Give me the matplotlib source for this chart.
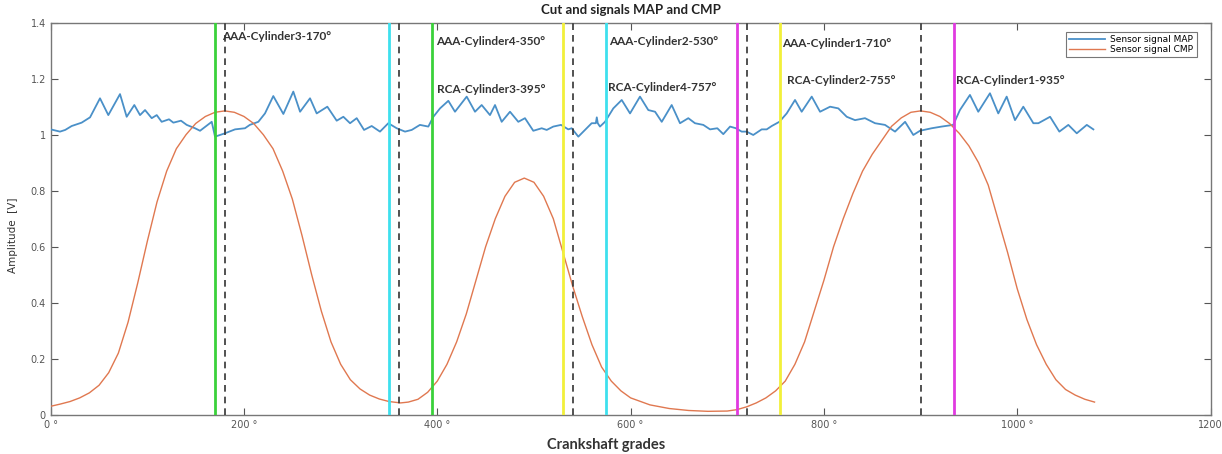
import matplotlib
matplotlib.use("Agg")
import matplotlib.pyplot as plt

# ---- MAP signal ----
map_x = [0, 9.6, 15, 21.7, 32, 40.7, 51, 59.6, 71.7, 78.6, 86.5, 92.4, 97.6, 104.5, 109.7,
         114.8, 122.4, 126.9, 134.8, 140.7, 149.3, 154.5, 166.6, 170, 180.3, 190.7, 201,
         206, 214.8, 221.7, 230.3, 240.7, 251, 258, 268.3, 275.2, 286.2, 295.9, 302.8,
         309.7, 316.6, 324.2, 332.1, 340.7, 349.3, 358, 366.6, 373.5, 382, 390.7, 395.9,
         402.8, 411.4, 418.3, 430.4, 439, 445.9, 454.5, 459.7, 466.6, 475.2, 483.8, 490.7,
         499.3, 508, 513.2, 520, 528, 535.5, 539, 545.9, 552.8, 559.7, 564, 565, 566, 568.3,
         573.5, 582.1, 590.8, 599.4, 609.7, 618.3, 625.3, 632.2, 642.5, 651.1, 659.7,
         666.6, 675.2, 682.2, 689.7, 695.9, 702.9, 709, 714.9, 720, 726.9, 735.6, 740.8,
         746, 753.9, 761.5, 770.1, 777, 787.4, 796, 806.4, 814.9, 823.6, 832.2, 842.5,
         852.9, 863.2, 873.6, 884, 892.5, 899.4, 911.5, 921.8, 933.8, 940.7, 951.1, 959.7,
         971.8, 980.4, 989.1, 997.7, 1006.3, 1016.7, 1021.9, 1034, 1043.6, 1052.9, 1061.6,
         1072, 1078.8]
map_y = [1.019, 1.011, 1.017, 1.031, 1.043, 1.062, 1.130, 1.070, 1.145, 1.064, 1.106, 1.070,
         1.088, 1.059, 1.070, 1.046, 1.055, 1.043, 1.050, 1.035, 1.023, 1.014, 1.046, 0.993,
         1.005, 1.019, 1.023, 1.035, 1.046, 1.076, 1.138, 1.074, 1.154, 1.082, 1.130,
         1.076, 1.100, 1.050, 1.064, 1.041, 1.059, 1.017, 1.031, 1.011, 1.041, 1.023,
         1.011, 1.017, 1.035, 1.029, 1.064, 1.094, 1.121, 1.082, 1.136, 1.082, 1.106,
         1.070, 1.106, 1.046, 1.082, 1.046, 1.059, 1.014, 1.023, 1.017, 1.029, 1.035,
         1.019, 1.023, 0.993, 1.017, 1.041, 1.041, 1.062, 1.041, 1.029, 1.046, 1.094,
         1.124, 1.076, 1.136, 1.088, 1.082, 1.046, 1.106, 1.041, 1.059, 1.041, 1.035,
         1.019, 1.023, 1.002, 1.029, 1.023, 1.011, 1.011, 0.999, 1.019, 1.019, 1.031,
         1.046, 1.076, 1.124, 1.082, 1.136, 1.082, 1.100, 1.094, 1.064, 1.052, 1.059,
         1.041, 1.035, 1.011, 1.046, 0.999, 1.014, 1.023, 1.029, 1.035, 1.088, 1.142,
         1.082, 1.148, 1.076, 1.136, 1.052, 1.100, 1.041, 1.041, 1.064, 1.011, 1.035,
         1.005, 1.035, 1.019]

# ---- CMP signal ----
cmp_x = [0, 10, 20, 30, 40, 50, 60, 70, 80, 90, 100, 110, 120, 130, 140, 150, 160, 170, 180,
         190, 200, 210, 220, 230, 240, 250, 260, 270, 280, 290, 300, 310, 320, 330, 340,
         350, 362, 370, 380, 390, 400, 410, 420, 430, 440, 450, 460, 470, 480, 490, 500,
         510, 520, 530, 540, 550, 560, 570, 580, 590, 600, 620, 640, 660, 680, 700, 710,
         720, 730, 740, 750, 760, 770, 780, 790, 800, 810, 820, 830, 840, 850, 860, 870,
         880, 890, 900, 910, 920, 930, 940, 950, 960, 970, 980, 990, 1000, 1010, 1020,
         1030, 1040, 1050, 1060, 1070, 1080]
cmp_y = [0.03, 0.038, 0.047, 0.06, 0.078, 0.105, 0.15, 0.22, 0.33, 0.47, 0.62, 0.76, 0.87,
         0.95, 1.0, 1.04, 1.065, 1.08, 1.085, 1.08, 1.065, 1.04, 1.0, 0.95, 0.87, 0.77,
         0.64, 0.5, 0.37, 0.26, 0.18, 0.125, 0.092, 0.07, 0.056, 0.047, 0.042, 0.045,
         0.055, 0.08, 0.12, 0.18, 0.26, 0.36, 0.48, 0.6, 0.7, 0.78, 0.83, 0.845, 0.83,
         0.78, 0.7, 0.58, 0.46, 0.35, 0.25, 0.17, 0.12, 0.085, 0.06, 0.035, 0.022, 0.015,
         0.012, 0.013, 0.018, 0.028, 0.042, 0.06, 0.085, 0.12, 0.18, 0.26, 0.37, 0.48,
         0.6, 0.7, 0.79, 0.87, 0.93, 0.98, 1.03, 1.06, 1.08, 1.085, 1.08, 1.065, 1.04,
         1.005, 0.96, 0.9, 0.82, 0.7, 0.58, 0.45, 0.34, 0.25, 0.18, 0.125, 0.09, 0.07,
         0.055, 0.045]

# ---- markers ----
solid_pos = [170, 395, 350, 575, 530, 755, 710, 935]
solid_col = ['#3ad13a', '#3ad13a', '#3ee0ee', '#3ee0ee', '#f2f03a', '#f2f03a', '#e03ae0', '#e03ae0']
dashed_pos = [180, 360, 540, 720, 900]

labels = ["AAA-Cylinder3-170°", "AAA-Cylinder4-350°", "RCA-Cylinder3-395°",
          "AAA-Cylinder2-530°", "RCA-Cylinder4-757°", "AAA-Cylinder1-710°",
          "RCA-Cylinder2-755°", "RCA-Cylinder1-935°"]
label_x = [177, 398.6, 400, 578, 577, 757, 762, 936.7]
label_y = [1.35, 1.332, 1.162, 1.332, 1.169, 1.326, 1.195, 1.195]

xticks = [0, 200, 400, 600, 800, 1000, 1200]
xticklabels = ["0 °", "200 °", "400 °", "600 °", "800 °", "1000 °", "1200"]
yticks = [0, 0.2, 0.4, 0.6, 0.8, 1.0, 1.2, 1.4]
yticklabels = ["0", "0.2", "0.4", "0.6", "0.8", "1", "1.2", "1.4"]

fig = plt.figure(figsize=(12.22, 4.54), dpi=100)
ax = fig.add_axes([0.0415, 0.0866, 0.9491, 0.8634])

ax.plot(map_x, map_y, color='#4a90c8', lw=1.3, label='Sensor signal MAP', zorder=3)
ax.plot(cmp_x, cmp_y, color='#e07850', lw=1.0, label='Sensor signal CMP', zorder=3)

for p, c in zip(solid_pos, solid_col):
    ax.axvline(p, color=c, lw=2.0, zorder=4)
for p in dashed_pos:
    ax.axvline(p, color='#333333', lw=1.2, ls=(0, (4, 3)), zorder=4)

for t, x, y in zip(labels, label_x, label_y):
    ax.text(x, y, t, fontsize=8.5, fontweight='bold', family='Lato', color='#333333',
            ha='left', va='center', zorder=5)

ax.set_xlim(0, 1200)
ax.set_ylim(0, 1.4)
ax.set_xticks(xticks)
ax.set_xticklabels(xticklabels)
ax.set_yticks(yticks)
ax.set_yticklabels(yticklabels)
ax.tick_params(direction='in', length=5, top=True, right=True, labelsize=7,
               labelcolor='#555555', color='#555555')
for s in ax.spines.values():
    s.set_color('#777777')
    s.set_linewidth(1.0)

ax.set_title('Cut and signals MAP and CMP', fontsize=9.5, fontweight='bold',
             family='Lato', color='#222222', pad=6)
ax.set_xlabel('Crankshaft grades', fontsize=10.5, fontweight='bold', family='Lato',
              color='#333333')
ax.xaxis.set_label_coords(0.479, -0.06)
ax.set_ylabel('Amplitude  [V]', fontsize=7.5, color='#333333')
ax.yaxis.set_label_coords(-0.028, 0.458)

leg = ax.legend(loc='upper right', fontsize=6.5, handlelength=4, handletextpad=0.6,
                frameon=True, fancybox=False, edgecolor='#555555', borderpad=0.35,
                labelspacing=0.1, borderaxespad=0, bbox_to_anchor=(0.988, 0.977))
leg.get_frame().set_linewidth(0.8)

fig.savefig('out.png', dpi=100)
